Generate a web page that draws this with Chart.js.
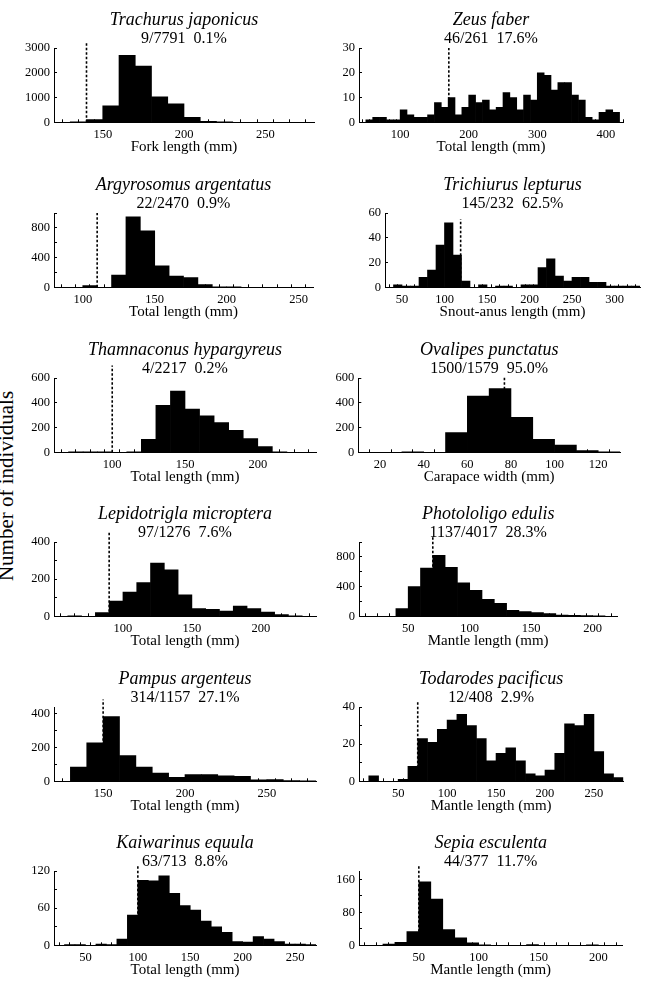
<!DOCTYPE html>
<html>
<head>
<meta charset="utf-8">
<script src="https://cdn.jsdelivr.net/npm/chart.js@4.4.1/dist/chart.umd.min.js"></script>
<style>
html,body{margin:0;padding:0;background:#fff;overflow:hidden;}
#wrap{position:relative;width:648px;height:988px;overflow:hidden;background:#fff;}
#wrap canvas{position:absolute;}
#ylab{position:absolute;left:6px;top:486px;font-family:"Liberation Serif","Times New Roman",serif;font-size:21px;line-height:1;white-space:nowrap;color:#000;transform:translate(-50%,-50%) rotate(-90deg);}
</style>
</head>
<body>
<div id="wrap"><div id="ylab">Number of individuals</div></div>
<script>
// ---------- DATA ----------
const speciesNames = ['Trachurus japonicus','Zeus faber','Argyrosomus argentatus','Trichiurus lepturus',
  'Thamnaconus hypargyreus','Ovalipes punctatus','Lepidotrigla microptera','Photololigo edulis',
  'Pampus argenteus','Todarodes pacificus','Kaiwarinus equula','Sepia esculenta'];
const catchRatios = ['9/7791  0.1%','46/261  17.6%','22/2470  0.9%','145/232  62.5%',
  '4/2217  0.2%','1500/1579  95.0%','97/1276  7.6%','1137/4017  28.3%',
  '314/1157  27.1%','12/408  2.9%','63/713  8.8%','44/377  11.7%'];
const lengthTypes = ['Fork length (mm)','Total length (mm)','Total length (mm)','Snout-anus length (mm)',
  'Total length (mm)','Carapace width (mm)','Total length (mm)','Mantle length (mm)',
  'Total length (mm)','Mantle length (mm)','Total length (mm)','Mantle length (mm)'];
const cutoffLengths = [140,171,110,119,100,77,90,70,150,70,100,50];
const cutoffLineTops = [3250,30,1000,55,700,610,455,1080,485,43,128,192];

// lower edge of each 10-mm class and the number of individuals in it
const trachurusBins   = [130,140,150,160,170,180,190,200,210,220];
const trachurusCounts = [9,110,660,2700,2270,1030,750,200,40,15];
const zeusBins   = [50,60,70,80,90,100,110,120,130,140,150,160,170,180,190,200,210,220,230,240,250,260,270,280,290,300,310,320,330,340,350,360,370,380,390,400,410];
const zeusCounts = [1,2,2,1,1,5,3,2,2,3,8,6,10,3,6,11,8,9,5,6,12,10,5,11,9,20,19,13,16,16,11,9,2,1,4,5,4];
const argyrosomusBins   = [100,110,120,130,140,150,160,170,180,190,200];
const argyrosomusCounts = [22,0,165,950,760,290,150,130,35,5,2];
const trichiurusBins   = [40,50,60,70,80,90,100,110,120,130,140,150,160,170,180,190,200,210,220,230,240,250,260,270,280,290,300,310,320];
const trichiurusCounts = [2,1,1,8,14,34,52,26,5,0,2,0,1,1,0,2,2,16,23,9,5,8,8,4,4,1,1,1,1];
const thamnaconusBins   = [70,80,90,100,110,120,130,140,150,160,170,180,190,200,210];
const thamnaconusCounts = [1,1,2,0,3,105,380,495,350,295,240,178,110,47,3];
const ovalipesBins   = [30,40,50,60,70,80,90,100,110,120];
const ovalipesCounts = [3,0,160,455,515,282,104,58,14,2];
const lepidotriglaBins   = [60,70,80,90,100,110,120,130,140,150,160,170,180,190,200,210,220];
const lepidotriglaCounts = [2,0,20,82,130,182,287,250,116,41,37,28,55,41,23,9,3];
const photololigoBins   = [40,50,60,70,80,90,100,110,120,130,140,150,160,170,180,190,200];
const photololigoCounts = [105,400,650,820,660,450,350,227,173,82,64,50,36,18,14,9,5];
const pampusBins   = [130,140,150,160,170,180,190,200,210,220,230,240,250,260,270];
const pampusCounts = [84,228,384,152,84,48,24,40,40,32,30,8,10,4,2];
const todarodesBins   = [20,30,40,50,60,70,80,90,100,110,120,130,140,150,160,170,180,190,200,210,220,230,240,250,260,270];
const todarodesCounts = [3,0,0,1,8,23,21,28,33,36,30,23,11,15,18,11,4,3,6,15,31,30,36,16,4,2];
const kaiwarinusBins   = [30,40,50,60,70,80,90,100,110,120,130,140,150,160,170,180,190,200,210,220,230,240,250,260];
const kaiwarinusCounts = [1,1,0,2,1,10,49,105,104,112,84,64,57,39,30,21,6,5,14,10,6,2,2,1];
const sepiaBins   = [20,30,40,50,60,70,80,90,100,140,190];
const sepiaCounts = [3,7,33,154,112,38,18,6,1,2,1];

const binLists = [trachurusBins,zeusBins,argyrosomusBins,trichiurusBins,thamnaconusBins,ovalipesBins,
  lepidotriglaBins,photololigoBins,pampusBins,todarodesBins,kaiwarinusBins,sepiaBins];
const countLists = [trachurusCounts,zeusCounts,argyrosomusCounts,trichiurusCounts,thamnaconusCounts,ovalipesCounts,
  lepidotriglaCounts,photololigoCounts,pampusCounts,todarodesCounts,kaiwarinusCounts,sepiaCounts];
const binWidth = 10;

// ---------- AXES ----------
const xRanges = [[120,280],[40,425],[80,260],[30,330],[60,240],[10,130],[50,240],[10,220],[120,280],[10,280],[20,270],[0,220]];
const xLabelEvery = [50,100,50,50,50,20,50,50,50,50,50,50];
const yMaxes = [3000,30,1000,60,600,600,400,1000,440,40,120,180];
const yTickEvery = [1000,10,200,20,200,200,100,200,100,10,30,40];
const yLabelEvery = [1000,10,400,20,200,200,200,400,200,20,60,80];

// ---------- LAYOUT ----------
const rowTops = [0,164.7,329.7,493.7,658.7,823];
const yAxisWidths = [54,35,54,61,54,34.3,54,35,54,35,54,35];
const rightPads = [10,25,11,0,7,28,8,30.7,8,24.7,8,25.7];
const CW = 324, CH = 165, XAXIS_H = 42.7;

const SERIF = "'Liberation Serif','Times New Roman',serif";
Chart.defaults.font.family = SERIF;
Chart.defaults.color = '#000';

function stepTicks(lo, hi, step) {
  const out = [];
  const start = Math.ceil(lo / step - 1e-9) * step;
  for (let v = start; v <= hi + 1e-9; v += step) out.push({ value: v });
  return out;
}

const cutoffLine = {
  id: 'cutoffLine',
  afterDatasetsDraw(chart, args, opts) {
    const {ctx, scales} = chart;
    const px = scales.x.getPixelForValue(opts.value);
    const y0 = scales.y.getPixelForValue(0);
    const y1 = scales.y.getPixelForValue(opts.top);
    ctx.save();
    ctx.strokeStyle = '#000';
    ctx.lineWidth = 1.6;
    ctx.setLineDash([2.5, 2]);
    ctx.beginPath();
    ctx.moveTo(px, y0);
    ctx.lineTo(px, y1);
    ctx.stroke();
    ctx.restore();
  }
};

const wrap = document.getElementById('wrap');
speciesNames.forEach((name, i) => {
  const col = i % 2, row = Math.floor(i / 2);
  const cv = document.createElement('canvas');
  cv.width = CW; cv.height = CH;
  cv.style.left = (col * CW) + 'px';
  cv.style.top = rowTops[row] + 'px';
  cv.style.width = CW + 'px'; cv.style.height = CH + 'px';
  wrap.appendChild(cv);

  const xs = xRanges[i];
  const points = binLists[i].map((b, k) => ({x: b + binWidth / 2, y: countLists[i][k]}));
  const xStep = binWidth, yStep = yTickEvery[i];

  new Chart(cv, {
    type: 'bar',
    data: { datasets: [{ data: points, backgroundColor: '#000', borderWidth: 0,
      barPercentage: 1, categoryPercentage: 1 }] },
    plugins: [cutoffLine],
    options: {
      responsive: false, animation: false, devicePixelRatio: 1, events: [],
      layout: { padding: { left: 0, right: rightPads[i], top: 0, bottom: 0 } },
      plugins: {
        legend: { display: false },
        tooltip: { enabled: false },
        title: { display: true, text: name, fullSize: false, color: '#000',
          font: { family: SERIF, size: 18, style: 'italic', weight: 'normal', lineHeight: 1.1 },
          padding: { top: 10.1, bottom: 0 } },
        subtitle: { display: true, text: catchRatios[i], fullSize: false, color: '#000',
          font: { family: SERIF, size: 16, weight: 'normal', lineHeight: 1 },
          padding: { top: 1, bottom: 1.1 } },
        cutoffLine: { value: cutoffLengths[i], top: cutoffLineTops[i] }
      },
      scales: {
        x: {
          type: 'linear', position: 'bottom', min: xs[0], max: xs[1], offset: false,
          afterFit: s => { s.height = XAXIS_H; },
          afterBuildTicks: s => { s.ticks = stepTicks(xs[0], xs[1], xStep); },
          grid: { display: true, drawOnChartArea: false, drawTicks: true, tickLength: -3, color: '#000', lineWidth: 1 },
          border: { display: true, color: '#000', width: 1 },
          ticks: { autoSkip: false, maxRotation: 0, minRotation: 0, padding: 8,
            font: { family: SERIF, size: 12.5 }, color: '#000',
            callback: v => (v % xLabelEvery[i] === 0 && v !== xs[0]) ? String(v) : '' },
          title: { display: true, text: lengthTypes[i], color: '#000',
            font: { family: SERIF, size: 15, lineHeight: 1.2 }, padding: { top: 0, bottom: 8.5 } }
        },
        y: {
          type: 'linear', position: 'left', min: 0, max: yMaxes[i],
          afterFit: s => { s.width = yAxisWidths[i]; },
          afterBuildTicks: s => { s.ticks = stepTicks(0, yMaxes[i], yStep); },
          grid: { display: true, drawOnChartArea: false, drawTicks: true, tickLength: -3, color: '#000', lineWidth: 1 },
          border: { display: true, color: '#000', width: 1 },
          ticks: { autoSkip: false, padding: 7,
            font: { family: SERIF, size: 12.5 }, color: '#000',
            callback: v => (v % yLabelEvery[i] === 0) ? String(v) : '' }
        }
      }
    }
  });
});
</script>
</body>
</html>
